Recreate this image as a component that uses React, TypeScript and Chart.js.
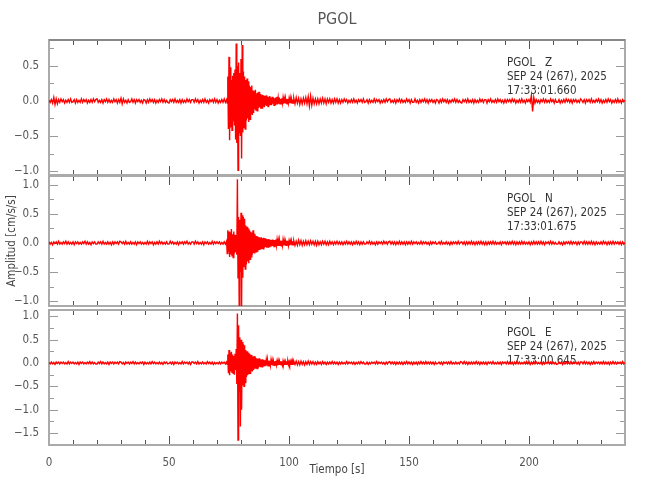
import React, { useEffect, useRef } from 'react';
import { Chart, registerables } from 'chart.js';

Chart.register(...registerables);

// ---------------- data ----------------
const TITLE = 'PGOL';
const STATION = 'PGOL';
const DATE_LABEL = 'SEP 24 (267), 2025';
const COMPONENTS = ['Z', 'N', 'E'];
const START_TIMES = ['17:33:01.660', '17:33:01.675', '17:33:00.645'];
const X_LABEL = 'Tiempo [s]';
const Y_LABEL = 'Amplitud [cm/s/s]';
const X_MIN = 0;
const X_MAX = 240;
const X_TICK_STEP = 10;
const X_TICK_LABELS = [0, 50, 100, 150, 200];
const Y_TICK_STEP = 0.25;
const Y_LABEL_STEP = 0.5;
const Y_MIN = [-1.057, -1.086, -1.756];
const Y_MAX = [0.871, 1.155, 1.135];

// sampling of the hand-read traces (values below are in hundredths of cm/s/s)
const UNIT = 0.01;
const PRE_T0 = 0, PRE_DT = 0.5;     // 0 .. 73.5 s
const EVT_T0 = 74, EVT_DT = 0.25;   // 74 .. 101.75 s
const POST_T0 = 102, POST_DT = 0.5; // 102 .. 240 s

const zPre = [
  1, -2, 2, -3, 5, -5, 3, -4, 2, -2, 3, -1, 2, -3, 1, -2, 2, -2, 3, -2,
  -1, 2, -3, 2, -2, 1, -2, 3, -2, 2, -1, 2, -3, 1, -2, 2, -2, 3, -1, 2,
  3, -2, 1, -2, 2, -3, 2, -1, 3, -2, 2, -2, 1, -2, 3, -1, 2, -3, 2, -2,
  4, -4, 3, -2, 1, -3, 2, -2, -1, 3, -2, 2, -3, 2, -1, 2, -2, 1, -3, 2,
  1, -3, 2, -2, 3, -1, 2, -2, 2, -3, 1, -2, 2, -1, 3, -2, 2, -2, 1, -2,
  -3, 2, -1, 2, -2, 3, -2, 1, -2, 2, -3, 2, -2, 1, -2, 3, -1, 2, -2, 2,
  2, -2, 3, -1, 2, -3, 1, -2, 2, -2, 3, -2, 1, -3, 2, -1, 2, -2, 3, -2,
  2, -3, 1, -2, 2, -2, 3, -2,
];
const zEvt = [
  2, -3, 35, -40, 63, -56, 48, -38,
  30, -42, 36, -28, 40, -35, 45, -55,
  82, -60, 50, -99, 55, -45, 40, -50,
  60, -82, 80, -45, 42, -38, 35, -40,
  30, -28, 32, -25, 28, -30, 22, -26,
  20, -18, 22, -20, 15, -17, 14, -12,
  16, -13, 11, -14, 12, -10, 13, -9,
  10, -11, 8, -10, 9, -7, 8, -9,
  7, -6, 8, -7, 6, -8, 6, -5,
  7, -6, 5, -6, 6, -4, 5, -6,
  4, -5, 5, -4, 6, -5, 4, -4,
  5, -4, 3, -4, 4, -3, 4, -4,
  3, -3, 4, -3, 3, -4, 3, -3,
  3, -3, 4, -3, 3, -3, 2, -3,
];
const zPost = [
  4, -4, 5, -3, 4, -5, 3, -4, 4, -3, 5, -4, 6, -7, 7, -6, 4, -4, 3, -4,
  3, -4, 3, -3, 4, -3, 3, -4, 3, -2, 3, -3, 2, -3, 3, -2, 3, -3, 2, -3,
  2, -2, 3, -1, 2, -3, 1, -2, 2, -2, 3, -2, 1, -3, 2, -1, 2, -2, 3, -2,
  -1, 2, -3, 2, -2, 1, -2, 3, -2, 2, -1, 2, -3, 1, -2, 2, -2, 3, -1, 2,
  3, -2, 1, -2, 2, -3, 2, -1, 3, -2, 2, -2, 1, -2, 3, -1, 2, -3, 2, -2,
  -2, 3, -2, 1, -3, 2, -2, 2, -1, 3, -2, 2, -3, 2, -1, 2, -2, 1, -3, 2,
  1, -3, 2, -2, 3, -1, 2, -2, 2, -3, 1, -2, 2, -1, 3, -2, 2, -2, 1, -2,
  -3, 2, -1, 2, -2, 3, -2, 1, -2, 2, -3, 2, -2, 1, -2, 3, -1, 2, -2, 2,
  2, -3, 2, -1, 3, -2, 1, -2, 2, -2, 3, -1, 2, -2, 1, -3, 2, -2, 2, -1,
  2, -2, 3, -1, 2, -3, 1, -2, 2, -2, 3, -2, 1, -3, 2, -1, 2, -2, 8, -15,
  5, -3, 2, -2, 1, -3, 2, -1, 3, -2, 2, -2, 1, -2, 3, -1, 2, -3, 2, -2,
  -2, 2, -3, 1, -2, 2, -2, 3, -1, 2, -2, 2, -3, 2, -1, 2, -2, 1, -2, 3,
  1, -2, 2, -3, 2, -1, 2, -2, 3, -2, 1, -2, 2, -1, 3, -2, 2, -3, 1, -2,
  2, -2, 3, -1, 2, -3, 1, -2, 2, -2, 3, -2, 1, -3, 2, -1, 1,
];

const nPre = [
  2, -2, 1, -3, 2, -1, 2, -2, 3, -2, 1, -2, 2, -1, 3, -2, 2, -2, 1, -2,
  2, -3, 2, -1, 2, -2, 1, -2, 2, -1, 3, -2, 2, -2, 1, -3, 2, -1, 2, -2,
  -2, 2, -1, 2, -2, 3, -2, 1, -2, 2, -2, 1, -3, 2, -2, 2, -1, 2, -2, 3,
  2, -1, 2, -2, 3, -2, 1, -2, 2, -2, 1, -2, 2, -3, 2, -1, 2, -2, 1, -2,
  1, -2, 3, -2, 2, -1, 2, -3, 1, -2, 2, -2, 3, -1, 2, -2, 1, -2, 2, -2,
  -2, 3, -1, 2, -2, 1, -2, 2, -3, 2, -1, 2, -2, 2, -1, 3, -2, 1, -2, 2,
  2, -2, 3, -1, 2, -2, 1, -2, 2, -3, 2, -1, 2, -2, 1, -2, 3, -2, 2, -1,
  2, -1, 2, -2, 1, -2, 2, -2,
];
const nEvt = [
  3, -18, 22, -15, 20, -24, 18, -20,
  24, -22, 15, -25, 20, -18, 14, -16,
  12, -20, 110, -60, 45, -109, 40, -50,
  52, -109, 48, -60, 45, -40, 42, -45,
  30, -37, 28, -32, 25, -35, 22, -28,
  20, -24, 18, -20, 22, -17, 16, -18,
  13, -15, 12, -14, 11, -12, 10, -12,
  9, -11, 10, -9, 8, -10, 9, -8,
  8, -7, 7, -8, 6, -7, 7, -6,
  6, -6, 5, -6, 6, -5, 5, -6,
  5, -5, 6, -4, 5, -5, 4, -5,
  5, -4, 4, -5, 4, -4, 5, -4,
  4, -4, 3, -4, 4, -3, 4, -4,
  3, -4, 3, -3, 4, -3, 3, -3,
];
const nPost = [
  4, -4, 3, -4, 5, -3, 4, -4, 3, -3, 4, -3, 3, -3, 4, -2, 3, -3, 3, -4,
  3, -3, 2, -3, 3, -2, 3, -3, 2, -3, 3, -2, 2, -3, 2, -2, 3, -2, 2, -2,
  2, -3, 2, -2, 3, -2, 2, -2, 2, -3, 2, -2, 3, -2, 2, -3, 2, -2, 2, -2,
  -2, 2, -1, 3, -2, 2, -2, 1, -3, 2, -2, 2, -1, 2, -2, 3, -1, 2, -2, 2,
  3, -2, 2, -2, 2, -3, 2, -2, 3, -2, 2, -2, 2, -3, 2, -2, 2, -2, 3, -2,
  2, -1, 2, -2, 1, -2, 3, -2, 2, -1, 2, -2, 1, -3, 2, -2, 2, -1, 2, -2,
  -1, 2, -2, 3, -2, 1, -2, 2, -2, 1, -3, 2, -2, 2, -1, 2, -2, 3, -2, 1,
  2, -2, 2, -3, 2, -2, 2, -2, 3, -2, 2, -3, 2, -2, 2, -2, 3, -2, 2, -3,
  2, -3, 2, -2, 2, -2, 3, -2, 2, -2, 1, -2, 2, -3, 2, -1, 2, -2, 2, -2,
  2, -2, 3, -2, 2, -3, 2, -2, 2, -2, 3, -2, 2, -2, 1, -2, 2, -3, 2, -2,
  3, -2, 2, -2, 2, -2, 3, -2, 2, -3, 2, -1, 2, -2, 3, -2, 2, -2, 1, -2,
  -2, 2, -2, 1, -3, 2, -2, 2, -1, 2, -2, 3, -2, 2, -1, 2, -3, 2, -2, 2,
  2, -2, 3, -2, 2, -2, 2, -2, 3, -2, 2, -3, 2, -2, 1, -2, 2, -2, 3, -1,
  2, -3, 2, -2, 2, -2, 3, -2, 2, -1, 2, -2, 2, -3, 2, -2, 1,
];

const ePre = [
  1, -2, 2, -2, 1, -3, 2, -1, 2, -2, 2, -1, 2, -2, 1, -2, 3, -2, 2, -1,
  2, -2, 1, -2, 2, -3, 2, -1, 2, -2, 1, -2, 2, -1, 3, -2, 2, -2, 1, -2,
  -2, 2, -1, 3, -2, 2, -2, 1, -2, 2, -3, 2, -1, 2, -2, 2, -1, 2, -2, 3,
  2, -2, 1, -3, 2, -1, 2, -2, 2, -1, 3, -2, 2, -2, 1, -2, 2, -1, 2, -3,
  2, -2, 1, -2, 2, -2, 3, -1, 2, -2, 1, -2, 2, -2, 1, -3, 2, -1, 2, -2,
  -1, 2, -2, 2, -3, 2, -1, 2, -2, 1, -2, 3, -2, 2, -1, 2, -2, 2, -3, 2,
  2, -1, 2, -2, 3, -2, 1, -2, 2, -2, 1, -2, 3, -1, 2, -2, 2, -3, 1, -2,
  1, -2, 2, -2, 2, -1, 2, -2,
];
const eEvt = [
  2, -3, 18, -22, 28, -26, 22, -18,
  24, -20, 18, -22, 15, -25, 20, -15,
  30, -45, 106, -165, 81, -60, 55, -136,
  50, -100, 45, -48, 40, -50, 38, -42,
  28, -30, 25, -26, 22, -24, 20, -22,
  18, -16, 17, -18, 14, -15, 15, -12,
  12, -11, 10, -12, 9, -10, 10, -8,
  8, -9, 7, -8, 8, -6, 7, -7,
  6, -7, 6, -5, 7, -6, 5, -6,
  5, -5, 6, -4, 5, -5, 4, -5,
  4, -4, 5, -4, 4, -5, 4, -4,
  4, -3, 4, -4, 3, -4, 4, -3,
  3, -4, 3, -3, 4, -3, 3, -3,
  3, -3, 3, -4, 3, -3, 3, -2,
];
const ePost = [
  4, -3, 4, -4, 3, -4, 4, -3, 3, -4, 3, -3, 4, -3, 3, -2, 3, -3, 2, -3,
  3, -2, 2, -3, 3, -2, 2, -3, 2, -2, 2, -2, 3, -2, 2, -2, 2, -3, 2, -2,
  2, -2, 1, -2, 3, -2, 2, -1, 2, -2, 2, -3, 1, -2, 2, -2, 3, -1, 2, -2,
  -2, 2, -3, 1, -2, 2, -1, 2, -2, 3, -2, 2, -1, 2, -2, 1, -3, 2, -2, 2,
  3, -2, 2, -2, 2, -3, 2, -2, 2, -2, 2, -3, 2, -2, 3, -2, 2, -2, 2, -3,
  2, -2, 2, -3, 2, -2, 3, -2, 2, -2, 3, -2, 2, -2, 2, -2, 2, -3, 2, -2,
  -1, 2, -2, 2, -3, 2, -1, 2, -2, 2, -2, 3, -2, 1, -2, 2, -2, 1, -2, 3,
  2, -2, 3, -2, 2, -3, 2, -2, 2, -2, 2, -2, 3, -2, 2, -3, 2, -2, 2, -2,
  2, -3, 2, -1, 2, -2, 3, -2, 1, -2, 2, -2, 2, -3, 2, -1, 2, -2, 3, -2,
  2, -2, 2, -3, 2, -2, 3, -2, 2, -2, 1, -2, 2, -2, 3, -2, 2, -3, 2, -2,
  3, -2, 2, -2, 1, -2, 2, -3, 2, -2, 2, -1, 3, -2, 2, -2, 2, -2, 1, -3,
  -2, 2, -1, 2, -3, 2, -2, 2, -2, 1, -2, 3, -2, 2, -1, 2, -2, 2, -3, 2,
  2, -2, 3, -2, 2, -2, 2, -3, 2, -2, 3, -2, 2, -1, 2, -2, 2, -2, 3, -2,
  2, -2, 2, -3, 2, -2, 3, -2, 2, -2, 2, -1, 2, -2, 3, -2, 1,
];

// ---------------- layout / style ----------------
const FONT = '"DejaVu Sans Condensed", "DejaVu Sans", sans-serif';
const W = 650;
const H = 500;
const PLOT_LEFT = 49;
const PLOT_RIGHT = 625;
const PANELS = [
  { top: 40, bottom: 175 },
  { top: 176, bottom: 306 },
  { top: 310, bottom: 445 },
];

type Pt = { x: number; y: number };
function buildSeries(pre: number[], evt: number[], post: number[]): Pt[] {
  const pts: Pt[] = [];
  pre.forEach((v, i) => pts.push({ x: PRE_T0 + i * PRE_DT, y: v * UNIT }));
  evt.forEach((v, i) => pts.push({ x: EVT_T0 + i * EVT_DT, y: v * UNIT }));
  post.forEach((v, i) => pts.push({ x: POST_T0 + i * POST_DT, y: v * UNIT }));
  return pts;
}

const SERIES = [
  buildSeries(zPre, zEvt, zPost),
  buildSeries(nPre, nEvt, nPost),
  buildSeries(ePre, eEvt, ePost),
];

const isLabeledY = (v: number) => Math.abs(v / Y_LABEL_STEP - Math.round(v / Y_LABEL_STEP)) < 1e-6;
const fmtY = (v: number) => {
  const s = Math.abs(v) < 1e-9 ? '0.0' : v.toFixed(1);
  return s.replace('-', '\u2212');
};
const isLabeledX = (v: number) => X_TICK_LABELS.some((t) => Math.abs(t - v) < 1e-6);

function framePlugin(k: number) {
  return {
    id: 'seismoFrame' + k,
    beforeDatasetsDraw(chart: any) {
      const { ctx, chartArea: a, scales } = chart;
      const xs = scales.x;
      const ys = scales.y;
      ctx.save();
      ctx.lineWidth = 1;
      ctx.strokeStyle = '#9a9a9a';
      for (const t of ys.ticks) {
        const y = Math.round(ys.getPixelForValue(t.value)) + 0.5;
        const len = isLabeledY(t.value) ? 9 : 5;
        ctx.beginPath();
        ctx.moveTo(a.left, y);
        ctx.lineTo(a.left + len, y);
        ctx.moveTo(a.right, y);
        ctx.lineTo(a.right - len, y);
        ctx.stroke();
      }
      ctx.strokeStyle = '#555';
      for (const t of xs.ticks) {
        const x = Math.round(xs.getPixelForValue(t.value)) + 0.5;
        const len = Math.abs(t.value % 50) < 1e-6 ? 9 : 5;
        ctx.beginPath();
        ctx.moveTo(x, a.top);
        ctx.lineTo(x, a.top + len);
        ctx.moveTo(x, a.bottom);
        ctx.lineTo(x, a.bottom - len);
        ctx.stroke();
      }
      ctx.strokeStyle = '#aaaaaa';
      ctx.lineWidth = 2;
      ctx.strokeRect(a.left, a.top, a.right - a.left, a.bottom - a.top);
      if (k === 0) {
        ctx.strokeStyle = '#888';
        ctx.beginPath();
        ctx.moveTo(a.left, a.top);
        ctx.lineTo(a.right, a.top);
        ctx.stroke();
      }

      ctx.fillStyle = '#333';
      ctx.font = `11.5px ${FONT}`;
      ctx.textAlign = 'left';
      ctx.textBaseline = 'alphabetic';
      const lines = [`${STATION}   ${COMPONENTS[k]}`, DATE_LABEL, START_TIMES[k]];
      lines.forEach((s, i) => ctx.fillText(s, a.right - 118, a.top + 25.5 + i * 14.3));
      ctx.restore();
    },
  };
}

function makeConfig(k: number): any {
  const P = PANELS[k];
  const first = k === 0;
  const mid = k === 1;
  const last = k === 2;
  return {
    type: 'line',
    data: {
      datasets: [
        {
          data: SERIES[k],
          borderColor: '#ff0000',
          borderWidth: 1.4,
          pointRadius: 0,
          pointHoverRadius: 0,
          fill: false,
          tension: 0,
        },
      ],
    },
    options: {
      animation: false,
      responsive: false,
      devicePixelRatio: 1,
      events: [],
      layout: { padding: { left: 0, right: W - PLOT_RIGHT, top: first ? 0 : P.top, bottom: 0 } },
      plugins: {
        legend: { display: false },
        tooltip: { enabled: false },
        title: {
          display: first,
          text: TITLE,
          fullSize: false,
          color: '#555',
          font: { family: FONT, size: 16, weight: 'normal', lineHeight: '20px' },
          padding: { top: 10, bottom: 10 },
        },
      },
      scales: {
        x: {
          type: 'linear',
          position: 'bottom',
          min: X_MIN,
          max: X_MAX,
          afterFit: (s: any) => {
            s.height = H - P.bottom;
          },
          grid: { display: false },
          border: { display: false },
          ticks: {
            display: last,
            stepSize: X_TICK_STEP,
            includeBounds: false,
            autoSkip: false,
            maxRotation: 0,
            minRotation: 0,
            padding: 3,
            color: '#555',
            font: { family: FONT, size: 11.5 },
            callback: (v: number) => (isLabeledX(v) ? String(Math.round(v)) : ''),
          },
          title: {
            display: last,
            text: X_LABEL,
            color: '#444',
            font: { family: FONT, size: 11.5 },
            padding: { top: 0, bottom: 23 },
          },
        },
        y: {
          type: 'linear',
          position: 'left',
          min: Y_MIN[k],
          max: Y_MAX[k],
          afterFit: (s: any) => {
            s.width = PLOT_LEFT;
          },
          grid: { display: false },
          border: { display: false },
          ticks: {
            stepSize: Y_TICK_STEP,
            includeBounds: false,
            autoSkip: false,
            padding: 2,
            color: '#555',
            font: { family: FONT, size: 11.5 },
            callback: (v: number) => (isLabeledY(v) ? fmtY(v) : ''),
          },
          title: {
            display: mid,
            text: Y_LABEL,
            color: '#444',
            font: { family: FONT, size: 11.5 },
            padding: { top: 5, bottom: 0 },
          },
        },
      },
    },
    plugins: [framePlugin(k)],
  };
}

export default function App() {
  const r0 = useRef<HTMLCanvasElement>(null);
  const r1 = useRef<HTMLCanvasElement>(null);
  const r2 = useRef<HTMLCanvasElement>(null);
  const refs = [r0, r1, r2];

  useEffect(() => {
    const charts = refs.map((r, k) => new Chart(r.current as HTMLCanvasElement, makeConfig(k)));
    return () => charts.forEach((c) => c.destroy());
  }, []);

  return (
    <div style={{ position: 'absolute', left: 0, top: 0, width: W, height: H, background: '#fff' }}>
      {refs.map((r, k) => (
        <canvas
          key={k}
          ref={r}
          width={W}
          height={H}
          style={{ position: 'absolute', left: 0, top: 0, width: W, height: H }}
        />
      ))}
    </div>
  );
}
